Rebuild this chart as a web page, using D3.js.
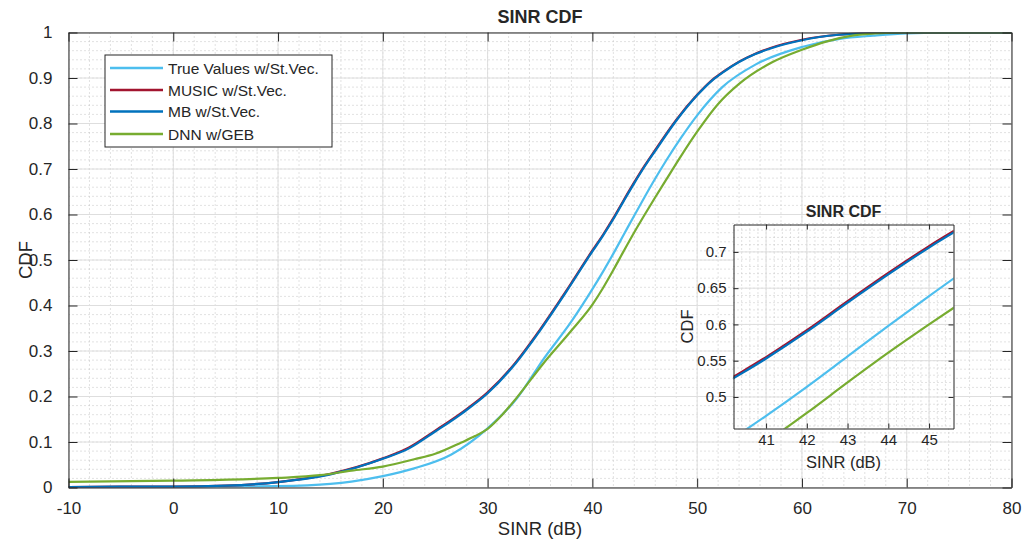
<!DOCTYPE html>
<html>
<head>
<meta charset="utf-8">
<script src="https://cdn.jsdelivr.net/npm/d3@7"></script>
<style>
  body { margin: 0; background: #fff; }
  svg text { font-family: "Liberation Sans", Arial, Helvetica, sans-serif; fill: #262626; }
  .axis path, .axis line { stroke: #262626; }
</style>
</head>
<body>
<svg id="chart"></svg>
<script>
// series values (SINR in dB, CDF)
const sinrTV = [-10, 0, 5, 10, 15, 17, 20, 23, 26.5, 30, 32.8, 35.3, 38, 40, 41, 42, 43, 44, 45, 46, 47, 48.5, 50, 52.4, 55.6, 60, 63.6, 66.8, 70, 75, 80];
const cdfTV  = [0, 0.001, 0.002, 0.003, 0.008, 0.013, 0.025, 0.042, 0.072, 0.13, 0.196, 0.281, 0.365, 0.436, 0.474, 0.514, 0.556, 0.598, 0.639, 0.679, 0.717, 0.770, 0.818, 0.880, 0.930, 0.968, 0.986, 0.993, 0.998, 1, 1];

const sinrMU = [-10, -5, 0, 5, 10, 15, 20, 22.5, 25, 27.5, 30, 32.5, 35, 37.5, 40, 41, 42, 43, 44, 45, 46, 48, 50, 51.5, 52.5, 54, 55.5, 57, 60, 63.5, 67, 70, 80];
const cdfMU  = [0.001, 0.002, 0.002, 0.004, 0.012, 0.030, 0.064, 0.088, 0.125, 0.164, 0.209, 0.270, 0.347, 0.432, 0.521, 0.555, 0.592, 0.632, 0.671, 0.708, 0.742, 0.808, 0.863, 0.897, 0.914, 0.936, 0.953, 0.966, 0.984, 0.995, 0.999, 1, 1];

const sinrMB = [-10, -5, 0, 5, 10, 15, 20, 22.5, 25, 27.5, 30, 32.5, 35, 37.5, 40, 41, 42, 43, 44, 45, 46, 48, 50, 51.5, 52.5, 54, 55.5, 57, 60, 63.5, 67, 70, 80];
const cdfMB  = [0.001, 0.002, 0.002, 0.004, 0.012, 0.029, 0.063, 0.086, 0.123, 0.162, 0.207, 0.268, 0.345, 0.430, 0.519, 0.553, 0.590, 0.630, 0.669, 0.706, 0.740, 0.806, 0.862, 0.896, 0.913, 0.935, 0.952, 0.965, 0.983, 0.995, 0.999, 1, 1];

const sinrDNN = [-10, 0, 10, 14, 17, 20, 23, 25, 27.5, 28.8, 30, 31.4, 32.8, 35.3, 38, 40, 41, 42, 43, 44, 45, 46, 47, 48.5, 50, 52, 54, 57.2, 60, 62.3, 64.8, 67, 70, 80];
const cdfDNN  = [0.0125, 0.015, 0.021, 0.027, 0.037, 0.046, 0.062, 0.074, 0.099, 0.113, 0.129, 0.160, 0.198, 0.272, 0.345, 0.402, 0.438, 0.478, 0.520, 0.561, 0.600, 0.638, 0.675, 0.730, 0.782, 0.843, 0.887, 0.935, 0.962, 0.980, 0.993, 0.998, 1, 1];

const seriesNames = ['True Values w/St.Vec.', 'MUSIC w/St.Vec.', 'MB w/St.Vec.', 'DNN w/GEB'];
const seriesColors = ['#4DBEEE', '#A2142F', '#0072BD', '#77AC30'];

const xTicks = [-10, 0, 10, 20, 30, 40, 50, 60, 70, 80];
const yTicks = [0, 0.1, 0.2, 0.3, 0.4, 0.5, 0.6, 0.7, 0.8, 0.9, 1];
const insetXTicks = [41, 42, 43, 44, 45];
const insetYTicks = [0.5, 0.55, 0.6, 0.65, 0.7];

const series = [
    {x: sinrTV, y: cdfTV},
    {x: sinrMU, y: cdfMU},
    {x: sinrMB, y: cdfMB},
    {x: sinrDNN, y: cdfDNN}
].map((s, i) => ({
    name: seriesNames[i],
    color: seriesColors[i],
    values: s.x.map((v, j) => ({sinr: v, cdf: s.y[j]}))
}));

const W = 1027, H = 546;
const svg = d3.select('#chart').attr('width', W).attr('height', H);

// plain number labels, hyphen minus like MATLAB
const plain = d => String(+d.toFixed(2));

// draws one MATLAB-like axes box with grid, ticks and curves
function drawAxes(cfg) {
    const x = d3.scaleLinear().domain(cfg.xDomain).range([cfg.left, cfg.right]);
    const y = d3.scaleLinear().domain(cfg.yDomain).range([cfg.bottom, cfg.top]);
    const g = svg.append('g');

    g.append('rect')
        .attr('x', cfg.left).attr('y', cfg.top)
        .attr('width', cfg.right - cfg.left).attr('height', cfg.bottom - cfg.top)
        .attr('fill', '#fff');

    // minor grid (dotted)
    const xMinor = d3.range(cfg.xDomain[0], cfg.xDomain[1] + 1e-9, cfg.xMinorStep)
        .map(v => +v.toFixed(4))
        .filter(v => v > cfg.xDomain[0] && v < cfg.xDomain[1]);
    const yMinor = d3.range(Math.ceil(cfg.yDomain[0] / cfg.yMinorStep) * cfg.yMinorStep, cfg.yDomain[1], cfg.yMinorStep)
        .map(v => +v.toFixed(4))
        .filter(v => v > cfg.yDomain[0] && v < cfg.yDomain[1]);

    g.selectAll('.xminor').data(xMinor).join('line')
        .attr('x1', d => x(d)).attr('x2', d => x(d))
        .attr('y1', cfg.top).attr('y2', cfg.bottom)
        .attr('stroke', '#c4c4c4').attr('stroke-width', 1)
        .attr('stroke-dasharray', '1,3');
    g.selectAll('.yminor').data(yMinor).join('line')
        .attr('x1', cfg.left).attr('x2', cfg.right)
        .attr('y1', d => y(d)).attr('y2', d => y(d))
        .attr('stroke', '#c4c4c4').attr('stroke-width', 1)
        .attr('stroke-dasharray', '1,3');

    // major grid
    g.selectAll('.xmajor').data(cfg.xTicks).join('line')
        .attr('x1', d => x(d)).attr('x2', d => x(d))
        .attr('y1', cfg.top).attr('y2', cfg.bottom)
        .attr('stroke', '#dedede').attr('stroke-width', 1);
    g.selectAll('.ymajor').data(cfg.yTicks).join('line')
        .attr('x1', cfg.left).attr('x2', cfg.right)
        .attr('y1', d => y(d)).attr('y2', d => y(d))
        .attr('stroke', '#dedede').attr('stroke-width', 1);

    // curves
    const clipId = 'clip-' + cfg.id;
    svg.append('clipPath').attr('id', clipId)
        .append('rect')
        .attr('x', cfg.left).attr('y', cfg.top)
        .attr('width', cfg.right - cfg.left).attr('height', cfg.bottom - cfg.top);

    const line = d3.line()
        .curve(d3.curveMonotoneX)
        .x(d => x(d.sinr))
        .y(d => y(d.cdf));

    g.append('g').attr('clip-path', `url(#${clipId})`)
        .selectAll('path').data(series).join('path')
        .attr('d', d => line(d.values))
        .attr('fill', 'none')
        .attr('stroke', d => d.color)
        .attr('stroke-width', 2.2)
        .attr('stroke-linejoin', 'round');

    // axes with inward ticks
    const tl = cfg.tickLen;
    const xAxis = d3.axisBottom(x).tickValues(cfg.xTicks).tickSizeInner(-tl).tickSizeOuter(0)
        .tickPadding(cfg.xPad).tickFormat(plain);
    const yAxis = d3.axisLeft(y).tickValues(cfg.yTicks).tickSizeInner(-tl).tickSizeOuter(0)
        .tickPadding(cfg.yPad).tickFormat(plain);

    g.append('g').attr('class', 'axis')
        .attr('transform', `translate(0,${cfg.bottom})`).call(xAxis);
    g.append('g').attr('class', 'axis')
        .attr('transform', `translate(${cfg.left},0)`).call(yAxis);
    g.append('g').attr('class', 'axis')
        .attr('transform', `translate(0,${cfg.top})`)
        .call(d3.axisTop(x).tickValues(cfg.xTicks).tickSizeInner(-tl).tickSizeOuter(0).tickFormat(''));
    g.append('g').attr('class', 'axis')
        .attr('transform', `translate(${cfg.right},0)`)
        .call(d3.axisRight(y).tickValues(cfg.yTicks).tickSizeInner(-tl).tickSizeOuter(0).tickFormat(''));

    g.selectAll('.axis text').style('font-size', cfg.tickFont + 'px').attr('fill', '#262626');
    g.selectAll('.axis .domain').attr('stroke', '#262626');

    // title and labels
    g.append('text')
        .attr('x', (cfg.left + cfg.right) / 2).attr('y', cfg.titleY)
        .attr('text-anchor', 'middle')
        .style('font-size', cfg.titleFont + 'px').style('font-weight', 'bold')
        .text('SINR CDF');
    g.append('text')
        .attr('x', (cfg.left + cfg.right) / 2).attr('y', cfg.xLabelY)
        .attr('text-anchor', 'middle')
        .style('font-size', cfg.labelFont + 'px')
        .text('SINR (dB)');
    g.append('text')
        .attr('transform', `translate(${cfg.yLabelX},${(cfg.top + cfg.bottom) / 2}) rotate(-90)`)
        .attr('text-anchor', 'middle')
        .style('font-size', cfg.labelFont + 'px')
        .text('CDF');

    return g;
}

// main axes
drawAxes({
    id: 'main',
    left: 68.5, right: 1011.5, top: 32.5, bottom: 487.5,
    xDomain: [-10, 80], yDomain: [0, 1],
    xTicks: xTicks, yTicks: yTicks,
    xMinorStep: 2, yMinorStep: 0.02,
    tickLen: 9, xPad: 14, yPad: 16,
    tickFont: 17, titleFont: 18, labelFont: 18.5,
    titleY: 23, xLabelY: 535, yLabelX: 32
});

// legend
const legend = svg.append('g');
legend.append('rect')
    .attr('x', 105).attr('y', 55).attr('width', 227).attr('height', 92)
    .attr('fill', '#fff').attr('stroke', '#262626').attr('stroke-width', 1);
const rowsY = [68, 90, 111.5, 134];
legend.selectAll('line').data(series).join('line')
    .attr('x1', 110).attr('x2', 163)
    .attr('y1', (d, i) => rowsY[i]).attr('y2', (d, i) => rowsY[i])
    .attr('stroke', d => d.color).attr('stroke-width', 2.6);
legend.selectAll('text').data(series).join('text')
    .attr('x', 168).attr('y', (d, i) => rowsY[i] + 5.5)
    .style('font-size', '15.5px')
    .text(d => d.name);

// inset axes
drawAxes({
    id: 'inset',
    left: 733.5, right: 953.5, top: 224.5, bottom: 428.5,
    xDomain: [40.2, 45.6], yDomain: [0.4565, 0.7378],
    xTicks: insetXTicks, yTicks: insetYTicks,
    xMinorStep: 0.2, yMinorStep: 0.01,
    tickLen: 5, xPad: 6, yPad: 7,
    tickFont: 15, titleFont: 16, labelFont: 16.5,
    titleY: 217, xLabelY: 468, yLabelX: 692.5
});
</script>
</body>
</html>
